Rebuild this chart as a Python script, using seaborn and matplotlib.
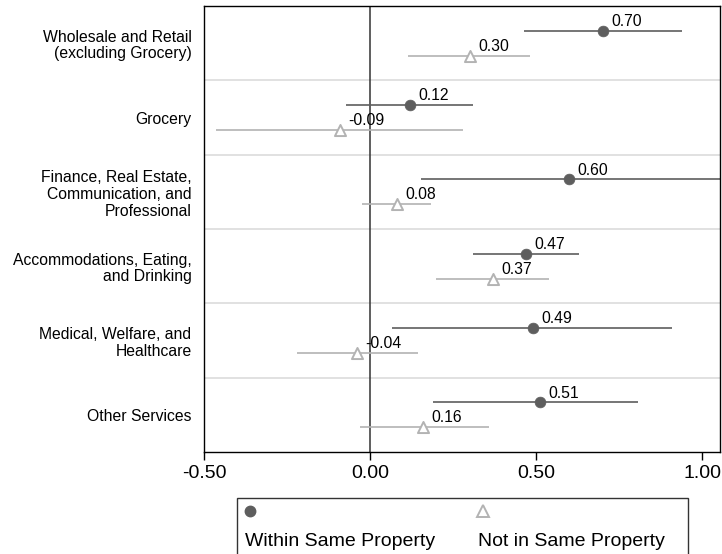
import matplotlib
matplotlib.use("Agg")
import matplotlib.pyplot as plt
from matplotlib.lines import Line2D
from matplotlib.patches import Rectangle
import numpy as np
import pandas as pd
import seaborn as sns

categories = [
    "Wholesale and Retail\n(excluding Grocery)",
    "Grocery",
    "Finance, Real Estate,\nCommunication, and\nProfessional",
    "Accommodations, Eating,\nand Drinking",
    "Medical, Welfare, and\nHealthcare",
    "Other Services",
]
within_est = [0.70, 0.12, 0.60, 0.47, 0.49, 0.51]
within_lo = [0.463, -0.073, 0.152, 0.310, 0.067, 0.188]
within_hi = [0.938, 0.310, 1.10, 0.629, 0.908, 0.807]
notin_est = [0.30, -0.09, 0.08, 0.37, -0.04, 0.16]
notin_lo = [0.115, -0.465, -0.025, 0.198, -0.220, -0.030]
notin_hi = [0.481, 0.279, 0.182, 0.537, 0.145, 0.358]
series_names = ["Within Same Property", "Not in Same Property"]
xticks = [-0.5, 0.0, 0.5, 1.0]
xticklabels = ["-0.50", "0.00", "0.50", "1.00"]

sns.set_style("ticks")
plt.rcParams["font.family"] = ["Liberation Sans", "DejaVu Sans"]
plt.rcParams["text.color"] = "black"
plt.rcParams["xtick.labelcolor"] = "black"
plt.rcParams["ytick.labelcolor"] = "black"

DARK = "#5e5e5e"
LIGHT = "#b3b3b3"
OFF = 1.0 / 6.0

rows = np.arange(len(categories))
df = pd.concat([
    pd.DataFrame({"cat": categories, "row": rows, "y": rows - OFF,
                  "est": within_est, "lo": within_lo, "hi": within_hi,
                  "group": series_names[0]}),
    pd.DataFrame({"cat": categories, "row": rows, "y": rows + OFF,
                  "est": notin_est, "lo": notin_lo, "hi": notin_hi,
                  "group": series_names[1]}),
], ignore_index=True)

fig = plt.figure(figsize=(7.22, 5.54), dpi=100)
ax = fig.add_axes([204 / 722, 1 - 452 / 554, (720 - 204) / 722, (452 - 6) / 554])

# gridlines between categories
for b in rows[:-1] + 0.5:
    ax.axhline(b, color="#dedede", lw=1.3, zorder=0)
ax.axvline(0, color="#333333", lw=1.1, zorder=1)

w = df[df.group == series_names[0]]
n = df[df.group == series_names[1]]
ax.hlines(w.y, w.lo, w.hi, color=DARK, lw=1.2, zorder=2)
ax.hlines(n.y, n.lo, n.hi, color=LIGHT, lw=1.2, zorder=2)

sns.scatterplot(data=w, x="est", y="y", marker="o", s=60, color=DARK,
                edgecolor=DARK, linewidth=0.5, ax=ax, zorder=3, legend=False)
sns.scatterplot(data=n, x="est", y="y", marker="^", s=64, color=LIGHT,
                edgecolor=LIGHT, linewidth=1.4, ax=ax, zorder=3, legend=False)
ax.collections[-1].set_facecolor("white")

for _, r in df.iterrows():
    ax.annotate(f"{r.est:.2f}", (r.est, r.y), xytext=(6, 3.5),
                textcoords="offset points", va="baseline", ha="left",
                fontsize=11.3, color="black", zorder=4)

ax.set_xlim(-0.5, 1.053)
ax.set_ylim(len(categories) - 0.5, -0.5)
ax.set_xticks(xticks)
ax.set_xticklabels(xticklabels, fontsize=14, color="black")
ax.set_yticks(rows)
ax.set_yticklabels(categories, fontsize=11.3, linespacing=1.15, color="black")
ax.tick_params(axis="y", length=0, pad=9)
ax.tick_params(axis="x", length=6, width=1, color="black", pad=3, direction="out")
ax.set_xlabel("")
ax.set_ylabel("")
for s in ax.spines.values():
    s.set_color("black")
    s.set_linewidth(1.0)
    s.set_visible(True)

# legend box (Stata-style: key above label)
fig.add_artist(Rectangle((237 / 722, -0.02), (688 - 237) / 722, 1 - 498 / 554 + 0.02,
                         transform=fig.transFigure, fill=False, edgecolor="#333333",
                         lw=1.0))
fig.add_artist(Line2D([250 / 722], [1 - 511 / 554], transform=fig.transFigure,
                      marker="o", ms=7.5, color=DARK, mec=DARK, ls="none"))
fig.add_artist(Line2D([483 / 722], [1 - 511 / 554], transform=fig.transFigure,
                      marker="^", ms=8.0, color=LIGHT, mfc="white", mec=LIGHT,
                      mew=1.4, ls="none"))
fig.text(245 / 722, 1 - 546 / 554, series_names[0], fontsize=14, va="baseline",
         color="black")
fig.text(478 / 722, 1 - 546 / 554, series_names[1], fontsize=14, va="baseline",
         color="black")

fig.savefig("out.png", dpi=100)
